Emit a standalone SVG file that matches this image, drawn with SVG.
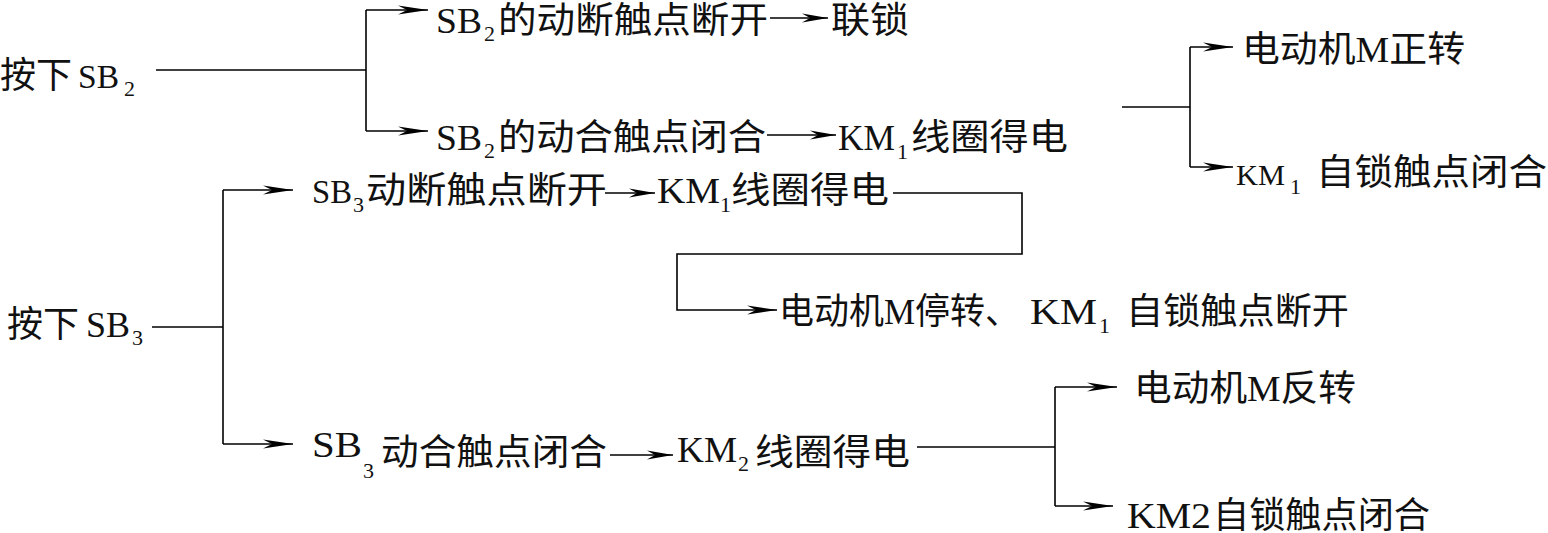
<svg xmlns="http://www.w3.org/2000/svg" width="1548" height="533" viewBox="0 0 1548 533">
<style>
text{font-family:"Liberation Serif","Noto Sans CJK SC",serif;fill:#111}
.cj{font-size:36px}
.la{font-size:36px}
.sb{font-size:22px}
.ln{fill:none;stroke:#000;stroke-width:1.6}
</style>
<defs>
<marker id="ar" viewBox="0 0 30 10" refX="30" refY="5" markerWidth="30" markerHeight="10" markerUnits="userSpaceOnUse" orient="auto">
<path d="M0,0.5 L30,5 L0,9.5 L9,5 Z" fill="#000"/>
</marker>
<marker id="as" viewBox="0 0 26 10" refX="26" refY="5" markerWidth="26" markerHeight="10" markerUnits="userSpaceOnUse" orient="auto">
<path d="M0,0.5 L26,5 L0,9.5 L8,5 Z" fill="#000"/>
</marker>
</defs>
<rect width="1548" height="533" fill="#fff"/>
<g id="connectors">
<path class="ln" d="M156,70 H366"/>
<path class="ln" d="M366,10 V131"/>
<path class="ln" d="M366,10 H428" marker-end="url(#ar)"/>
<path class="ln" d="M366,131 H428" marker-end="url(#ar)"/>
<path class="ln" d="M770,18 H828" marker-end="url(#as)"/>
<path class="ln" d="M767,135 H836" marker-end="url(#as)"/>
<path class="ln" d="M1122,107 H1190"/>
<path class="ln" d="M1190,47 V167"/>
<path class="ln" d="M1190,47 H1233" marker-end="url(#ar)"/>
<path class="ln" d="M1190,167 H1233" marker-end="url(#ar)"/>
<path class="ln" d="M152,327 H223"/>
<path class="ln" d="M223,190 V444"/>
<path class="ln" d="M223,190 H293" marker-end="url(#ar)"/>
<path class="ln" d="M223,444 H293" marker-end="url(#ar)"/>
<path class="ln" d="M605,193 H655" marker-end="url(#as)"/>
<path class="ln" d="M893,193 H1022 V254 H677 V310 H777" marker-end="url(#ar)"/>
<path class="ln" d="M610,455 H673" marker-end="url(#as)"/>
<path class="ln" d="M917,447 H1055"/>
<path class="ln" d="M1055,387 V506"/>
<path class="ln" d="M1055,387 H1117" marker-end="url(#ar)"/>
<path class="ln" d="M1055,506 H1113" marker-end="url(#ar)"/>
</g>
<g id="n-press-sb2">
<text class="cj" x="0" y="88" textLength="72" lengthAdjust="spacingAndGlyphs">按下</text>
<text class="la" x="78" y="88" textLength="41" lengthAdjust="spacingAndGlyphs" style="font-size:34px">SB</text>
<text class="sb" x="124" y="96">2</text>
</g>
<g id="n-sb2-nc">
<text class="la" x="436" y="33" textLength="46" lengthAdjust="spacingAndGlyphs">SB</text>
<text class="sb" x="484" y="41">2</text>
<text class="cj" x="498" y="33" textLength="270" lengthAdjust="spacingAndGlyphs">的动断触点断开</text>
</g>
<g id="n-interlock">
<text class="cj" x="831" y="33" textLength="78" lengthAdjust="spacingAndGlyphs">联锁</text>
</g>
<g id="n-sb2-no">
<text class="la" x="436" y="150" textLength="46" lengthAdjust="spacingAndGlyphs">SB</text>
<text class="sb" x="484" y="158">2</text>
<text class="cj" x="498" y="150" textLength="268" lengthAdjust="spacingAndGlyphs">的动合触点闭合</text>
</g>
<g id="n-km1-on-a">
<text class="la" x="838" y="150" textLength="57" lengthAdjust="spacingAndGlyphs">KM</text>
<text class="sb" x="897" y="159">1</text>
<text class="cj" x="911" y="150" textLength="157" lengthAdjust="spacingAndGlyphs">线圈得电</text>
</g>
<g id="n-motor-fwd">
<text class="cj" x="1242" y="62" textLength="223" lengthAdjust="spacingAndGlyphs">电动机M正转</text>
</g>
<g id="n-km1-hold">
<text class="la" x="1236" y="185" textLength="49" lengthAdjust="spacingAndGlyphs" style="font-size:30px">KM</text>
<text class="sb" x="1290" y="194">1</text>
<text class="cj" x="1316" y="185" textLength="231" lengthAdjust="spacingAndGlyphs">自锁触点闭合</text>
</g>
<g id="n-press-sb3">
<text class="cj" x="7" y="337" textLength="72" lengthAdjust="spacingAndGlyphs">按下</text>
<text class="la" x="86" y="337" textLength="44" lengthAdjust="spacingAndGlyphs">SB</text>
<text class="sb" x="132" y="345">3</text>
</g>
<g id="n-sb3-nc">
<text class="la" x="312" y="203" textLength="40" lengthAdjust="spacingAndGlyphs" style="font-size:33px">SB</text>
<text class="sb" x="353" y="212">3</text>
<text class="cj" x="366" y="203" textLength="241" lengthAdjust="spacingAndGlyphs">动断触点断开</text>
</g>
<g id="n-km1-on-b">
<text class="la" x="657" y="203" textLength="63" lengthAdjust="spacingAndGlyphs">KM</text>
<text class="sb" x="720" y="212">1</text>
<text class="cj" x="731" y="203" textLength="158" lengthAdjust="spacingAndGlyphs">线圈得电</text>
</g>
<g id="n-motor-stop">
<text class="cj" x="779" y="324" textLength="241" lengthAdjust="spacingAndGlyphs">电动机M停转、</text>
<text class="la" x="1030" y="324" textLength="67" lengthAdjust="spacingAndGlyphs">KM</text>
<text class="sb" x="1099" y="333">1</text>
<text class="cj" x="1126" y="324" textLength="223" lengthAdjust="spacingAndGlyphs">自锁触点断开</text>
</g>
<g id="n-sb3-no">
<text class="la" x="312" y="457" textLength="50" lengthAdjust="spacingAndGlyphs">SB</text>
<text class="sb" x="363" y="478">3</text>
<text class="cj" x="381" y="465" textLength="226" lengthAdjust="spacingAndGlyphs">动合触点闭合</text>
</g>
<g id="n-km2-on">
<text class="la" x="677" y="462" textLength="60" lengthAdjust="spacingAndGlyphs">KM</text>
<text class="sb" x="738" y="471">2</text>
<text class="cj" x="755" y="465" textLength="155" lengthAdjust="spacingAndGlyphs">线圈得电</text>
</g>
<g id="n-motor-rev">
<text class="cj" x="1134" y="401" textLength="222" lengthAdjust="spacingAndGlyphs">电动机M反转</text>
</g>
<g id="n-km2-hold">
<text class="la" x="1127" y="528" textLength="84" lengthAdjust="spacingAndGlyphs">KM2</text>
<text class="cj" x="1213" y="528" textLength="217" lengthAdjust="spacingAndGlyphs">自锁触点闭合</text>
</g>
</svg>
